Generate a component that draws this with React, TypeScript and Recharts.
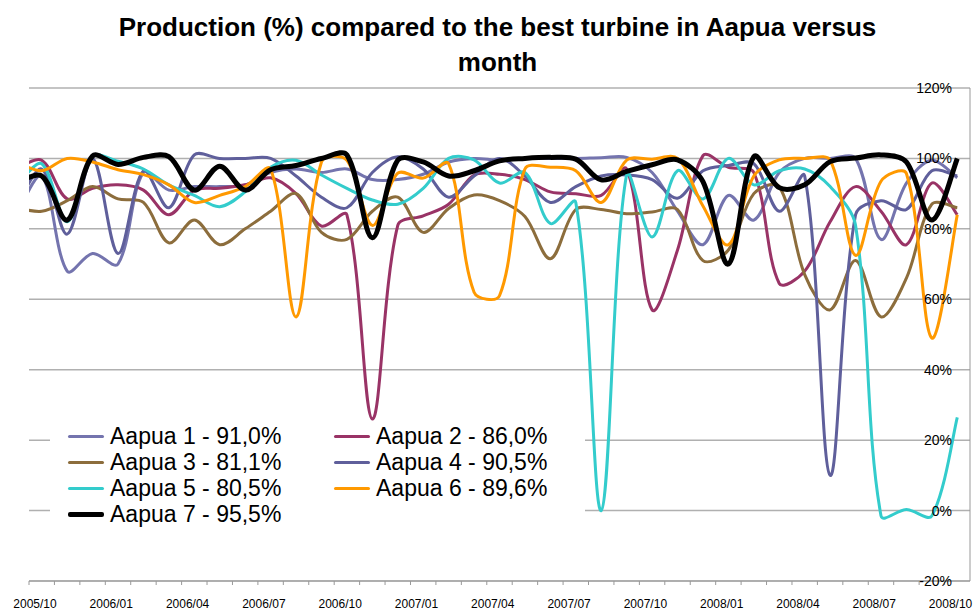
import React from 'react';
import { LineChart, Line, XAxis, YAxis, CartesianGrid, Legend } from 'recharts';

// months from 2005/09 (just left of the plot, clipped) to 2008/10
const months = [
    '2005/09', '2005/10', '2005/11', '2005/12',
    '2006/01', '2006/02', '2006/03', '2006/04', '2006/05', '2006/06', '2006/07', '2006/08', '2006/09', '2006/10', '2006/11', '2006/12',
    '2007/01', '2007/02', '2007/03', '2007/04', '2007/05', '2007/06', '2007/07', '2007/08', '2007/09', '2007/10', '2007/11', '2007/12',
    '2008/01', '2008/02', '2008/03', '2008/04', '2008/05', '2008/06', '2008/07', '2008/08', '2008/09', '2008/10',
];

const aapua1 = [84, 95, 68, 73, 70, 96, 91, 92, 92, 92.5, 96, 97, 96, 97, 94, 94, 95.5, 99, 100, 99.5, 100, 100, 100, 100.2, 100.3, 96, 85, 75.5, 89.5, 82.5, 96, 100, 100, 100, 77, 93, 99.5, 94.5];
const aapua2 = [97, 99.5, 88.5, 91.5, 92.5, 91, 84, 91, 91.5, 92.5, 94.5, 90, 80.8, 84, 26, 81, 83.7, 87, 95.3, 95.5, 94, 90.5, 90, 89.5, 97, 57, 74, 100.8, 97.5, 96, 64.5, 68, 82, 92, 85, 75.5, 93, 84];
const aapua3 = [86, 85, 88, 92, 88.5, 87.5, 76, 82.5, 75.5, 80, 85, 90, 79, 77, 85, 89, 79, 85.8, 89.6, 88, 83.5, 71.5, 85.5, 85.5, 84.3, 84.8, 85.5, 71, 74, 90, 92, 67, 57, 71, 55, 66, 87, 86];
const aapua4 = [86, 97, 78.5, 100, 73, 96.5, 86, 101, 100, 100, 100, 95, 89, 86, 96, 100.5, 97, 89, 95, 100, 95, 87.5, 92, 95, 95.3, 94, 88.7, 96.5, 98, 98.5, 85, 95, 10, 84, 88, 85.5, 96.5, 95];
const aapua5 = [92, 98.5, 82, 100.5, 99.2, 97, 92.5, 89.5, 86.3, 90.5, 97.5, 99.5, 95.3, 91.5, 88.2, 87, 91.5, 100, 99.6, 93, 96, 81.5, 87.5, 0, 95.5, 77.7, 96.5, 88.5, 100, 92.5, 96.5, 97, 92, 81, -1.5, 0.3, -1.5, 26.5];
const aapua6 = [99, 96.5, 100, 99, 96.8, 95.4, 92.5, 87.5, 89.5, 92, 97, 55, 99, 99.5, 81, 95.8, 94.4, 98.5, 62, 61, 97, 97.5, 96.5, 87.5, 99.5, 99.8, 100, 86.5, 75.5, 95, 99.6, 100, 99.5, 72.5, 93.5, 95.7, 49, 84];
const aapua7 = [93, 95, 82.5, 100.7, 98.3, 100.3, 100.5, 91, 97.8, 91, 96.8, 98, 100, 101, 77.5, 99.5, 99, 95, 96.5, 99.3, 100, 100.3, 99.8, 93.9, 96.3, 98.2, 99.6, 93.4, 70, 100.5, 91.7, 92.5, 99.1, 100.1, 101, 99, 82.5, 100];

const seriesNames = ['Aapua 1 - 91,0%', 'Aapua 2 - 86,0%', 'Aapua 3 - 81,1%', 'Aapua 4 - 90,5%', 'Aapua 5 - 80,5%', 'Aapua 6 - 89,6%', 'Aapua 7 - 95,5%'];
const seriesColors = ['#7474ae', '#993366', '#8c6d3c', '#5f5f9b', '#33cccc', '#ff9900', '#000000'];
const seriesValues = [aapua1, aapua2, aapua3, aapua4, aapua5, aapua6, aapua7];

const yTicks = [-20, 0, 20, 40, 60, 80, 100, 120];

// month index k: 0 = 2005/10, ticks sit on month boundaries
const data = months.map((m, i) => {
    const row: any = { k: i - 1, month: m };
    seriesValues.forEach((vals, s) => { row[`s${s}`] = vals[i]; });
    return row;
});
const xTicks = Array.from({ length: 37 }, (_, j) => j - 0.5);

const FONT = '"Liberation Sans", Arial, sans-serif';

// Excel-style smoothed line: Catmull-Rom beziers, tangents scaled by neighbouring segment lengths
const excelCurve = (context: any) => {
    let pts: number[][] = [];
    const dist = (a: number[], b: number[]) => Math.hypot(b[0] - a[0], b[1] - a[1]);
    return {
        areaStart() {},
        areaEnd() {},
        lineStart() { pts = []; },
        point(x: number, y: number) { pts.push([+x, +y]); },
        lineEnd() {
            const n = pts.length;
            if (!n) return;
            context.moveTo(pts[0][0], pts[0][1]);
            for (let i = 0; i < n - 1; i++) {
                const p0 = pts[Math.max(i - 1, 0)];
                const p1 = pts[i];
                const p2 = pts[i + 1];
                const p3 = pts[Math.min(i + 2, n - 1)];
                const d01 = dist(p0, p1) || dist(p1, p2);
                const d12 = dist(p1, p2);
                const d23 = dist(p2, p3) || d12;
                const s1 = d12 ? (2 * d12) / (d01 + d12) : 1;
                const s2 = d12 ? (2 * d12) / (d12 + d23) : 1;
                context.bezierCurveTo(
                    p1[0] + ((p2[0] - p0[0]) / 6) * s1, p1[1] + ((p2[1] - p0[1]) / 6) * s1,
                    p2[0] - ((p3[0] - p1[0]) / 6) * s2, p2[1] - ((p3[1] - p1[1]) / 6) * s2,
                    p2[0], p2[1]
                );
            }
        },
    };
};

const XTick = ({ x, y, payload }: any) => {
    const j = Math.round(payload.value + 0.5);
    if (j % 3 !== 0) return <g />;
    return (
        <text x={x + 6} y={y} dy={21} textAnchor="middle" fontSize={12} fontFamily={FONT} fill="#000">
            {months[j + 1]}
        </text>
    );
};

const YTick = ({ x, y, payload }: any) => (
    <text x={x - 18} y={y} dy={5} textAnchor="end" fontSize={14} fontFamily={FONT} fill="#000">
        {`${payload.value}%`}
    </text>
);

const LegendBox = () => (
    <div style={{ display: 'grid', gridTemplateColumns: '266px 266px', paddingLeft: 18, paddingTop: 2, fontFamily: FONT }}>
        {seriesNames.map((name, i) => (
            <div key={name} style={{ display: 'flex', alignItems: 'center', height: 26, whiteSpace: 'nowrap' }}>
                <div style={{ width: 36, height: i === 6 ? 5 : 3, background: seriesColors[i], marginRight: 6, borderRadius: 2 }} />
                <span style={{ fontSize: 23, color: '#000' }}>{name}</span>
            </div>
        ))}
    </div>
);

export default function App() {
    return (
        <div style={{ position: 'absolute', left: 0, top: 0, width: 976, height: 610, background: '#fff', fontFamily: FONT }}>
            <div style={{ position: 'absolute', left: 0, top: 10, width: 995, textAlign: 'center', fontSize: 26, fontWeight: 'bold', lineHeight: '35px', color: '#000' }}>
                <div>Production (%) compared to the best turbine in Aapua versus</div>
                <div>month</div>
            </div>
            <LineChart width={976} height={610} data={data} margin={{ top: 88, right: 0, bottom: 0, left: 29 }}>
                <CartesianGrid horizontal vertical={false} stroke="#b0b0b0" strokeWidth={1.5} />
                <XAxis
                    dataKey="k"
                    type="number"
                    domain={[-0.5, 36.5]}
                    allowDataOverflow
                    ticks={xTicks}
                    interval={0}
                    height={29}
                    tickSize={4}
                    tickMargin={2}
                    axisLine={{ stroke: '#999' }}
                    tickLine={{ stroke: '#999' }}
                    tick={XTick}
                />
                <YAxis
                    orientation="right"
                    type="number"
                    domain={[-20, 120]}
                    ticks={yTicks}
                    width={6}
                    tickSize={0}
                    tickMargin={0}
                    tickLine={false}
                    axisLine={{ stroke: '#999' }}
                    tick={YTick}
                />
                {seriesNames.map((name, i) => (
                    <Line
                        key={name}
                        dataKey={`s${i}`}
                        name={name}
                        type={excelCurve as any}
                        stroke={seriesColors[i]}
                        strokeWidth={i === 6 ? 5 : 3}
                        dot={false}
                        activeDot={false}
                        isAnimationActive={false}
                    />
                ))}
                <Legend
                    layout="horizontal"
                    verticalAlign="middle"
                    align="center"
                    content={() => <LegendBox />}
                    wrapperStyle={{ left: 50, top: 421, width: 535, height: 120, background: '#fff' }}
                />
            </LineChart>
        </div>
    );
}
